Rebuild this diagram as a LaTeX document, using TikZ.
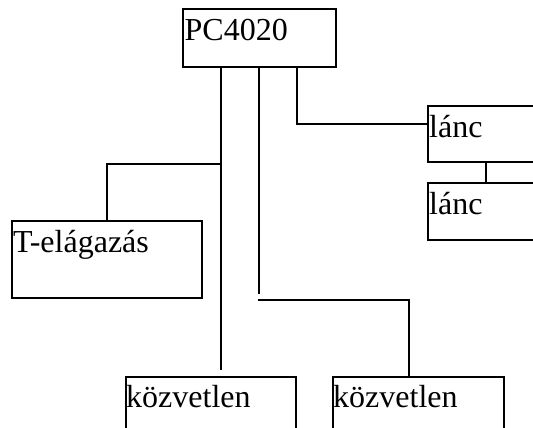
\documentclass[tikz,border=0pt]{standalone}
\usepackage{fontspec}
\setmainfont{Liberation Serif}
\begin{document}
\begin{tikzpicture}[x=1pt,y=-1pt,
  box/.style={draw, line width=1.5pt, rectangle, anchor=north west, inner sep=0pt, outer sep=0pt},
  lbl/.style={anchor=base west, inner sep=0pt, font=\fontsize{32}{36}\selectfont},
  conn/.style={line width=1.5pt}]
\useasboundingbox (0,0) rectangle (533,428);
\clip (0,0) rectangle (533,428);
% boxes
\node[box, minimum width=153pt, minimum height=58pt] (pc) at (183,9) {};
\node[box, minimum width=190pt, minimum height=77pt] (t) at (12,221) {};
\node[box, minimum width=150pt, minimum height=56pt] (l1) at (428,106) {};
\node[box, minimum width=150pt, minimum height=57pt] (l2) at (428,183) {};
\node[box, minimum width=170pt, minimum height=80pt] (k1) at (126,377) {};
\node[box, minimum width=171pt, minimum height=80pt] (k2) at (333,377) {};
% labels
\node[lbl] (tpc) at ([shift={(1.5pt,-32pt)}]pc.north west) {PC4020};
\node[lbl] (tt) at ([shift={(1pt,-31pt)}]t.north west) {T-elágazás};
\node[lbl] (tl1) at ([shift={(1pt,-31pt)}]l1.north west) {lánc};
\node[lbl] (tl2) at ([shift={(1pt,-31pt)}]l2.north west) {lánc};
\node[lbl] (tk1) at ([shift={(0pt,-30pt)}]k1.north west) {közvetlen};
\node[lbl] (tk2) at ([shift={(0pt,-30pt)}]k2.north west) {közvetlen};
% connection points
\coordinate (p1) at ([xshift=38pt]pc.south west);
\coordinate (p2) at ([xshift=76pt]pc.south west);
\coordinate (p3) at ([xshift=114pt]pc.south west);
\coordinate (e1) at (221,370);
\coordinate (j1) at (221,164);
\coordinate (e2) at (259,294);
\coordinate (j2) at (258,300);
% connectors
\draw[conn] (p1) -- (e1);
\draw[conn] (t.north) |- (j1);
\draw[conn] (p2) -- (e2);
\draw[conn] (j2) -| ([xshift=-9.5pt]k2.north);
\draw[conn] (p3) |- ([yshift=10pt]l1.west);
\draw[conn] ([xshift=58pt]l1.south west) -- ([xshift=58pt]l2.north west);
\end{tikzpicture}
\end{document}
